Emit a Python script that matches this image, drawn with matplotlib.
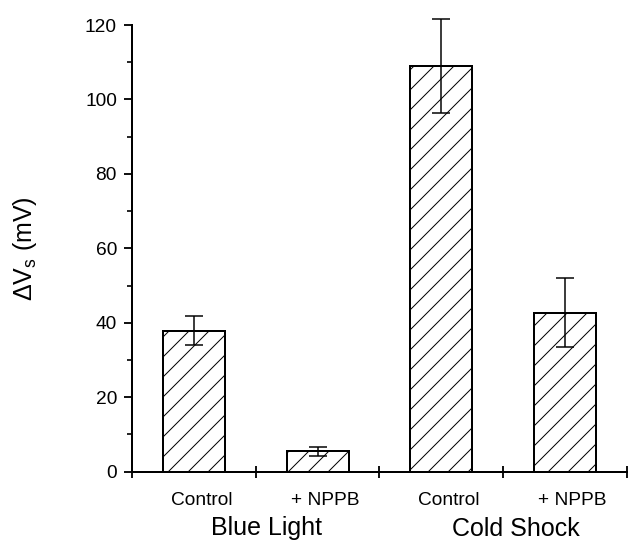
import matplotlib

matplotlib.use("Agg")
import matplotlib.pyplot as plt
import numpy as np
from matplotlib.ticker import MultipleLocator

# values
conditions = ["Control", "+ NPPB", "Control", "+ NPPB"]
groups = ["Blue Light", "Cold Shock"]
dvs = [37.9, 5.5, 109.0, 42.7]
dvs_err = [3.9, 1.2, 12.6, 9.3]

plt.rcParams["font.family"] = ["Liberation Sans", "DejaVu Sans"]
plt.rcParams["mathtext.fontset"] = "custom"
plt.rcParams["mathtext.rm"] = "Liberation Sans"
plt.rcParams["hatch.linewidth"] = 0.6

fig = plt.figure(figsize=(633 / 120, 540 / 120), dpi=120)
ax = fig.add_axes([0.2085, 0.1265, 0.782, 0.8272])

x = np.arange(len(dvs)) + 0.5
ax.bar(x, dvs, width=0.5, color="white", edgecolor="black",
       linewidth=1.2, hatch="//", zorder=2)
eb = ax.errorbar(x, dvs, yerr=dvs_err, fmt="none", ecolor="black",
                 elinewidth=0.9, capsize=5.2, capthick=0.9, zorder=3)
for art in eb.lines[1] + eb.lines[2]:
    art.set_clip_on(False)

ax.set_xlim(0, 4)
ax.set_ylim(0, 120)
ax.set_xticks(np.arange(0, 5))
ax.set_xticklabels([])
ax.yaxis.set_major_locator(MultipleLocator(20))
ax.yaxis.set_minor_locator(MultipleLocator(10))

for side in ("top", "right"):
    ax.spines[side].set_visible(False)
for side in ("left", "bottom"):
    ax.spines[side].set_linewidth(1.2)

ax.tick_params(axis="y", which="major", direction="out", length=5,
               width=1.1, labelsize=11.5, pad=4)
ax.tick_params(axis="y", which="minor", direction="out", length=3, width=1.0)
ax.tick_params(axis="x", which="major", direction="inout", length=7, width=1.1)

# condition labels under each bar
for xi, name in zip(x, conditions):
    ax.text(xi + 0.06, -0.065, name, transform=ax.get_xaxis_transform(),
            ha="center", va="center", fontsize=11.5)

# group labels
ax.text(1.09, -0.125, groups[0], transform=ax.get_xaxis_transform(),
        ha="center", va="center", fontsize=15)
ax.text(3.10, -0.128, groups[1], transform=ax.get_xaxis_transform(),
        ha="center", va="center", fontsize=15)

ax.set_ylabel(r"$\mathregular{\Delta V_s}$ (mV)", fontsize=15)
ax.yaxis.set_label_coords(-0.188, 0.5)

fig.savefig("out.png", dpi=120)
